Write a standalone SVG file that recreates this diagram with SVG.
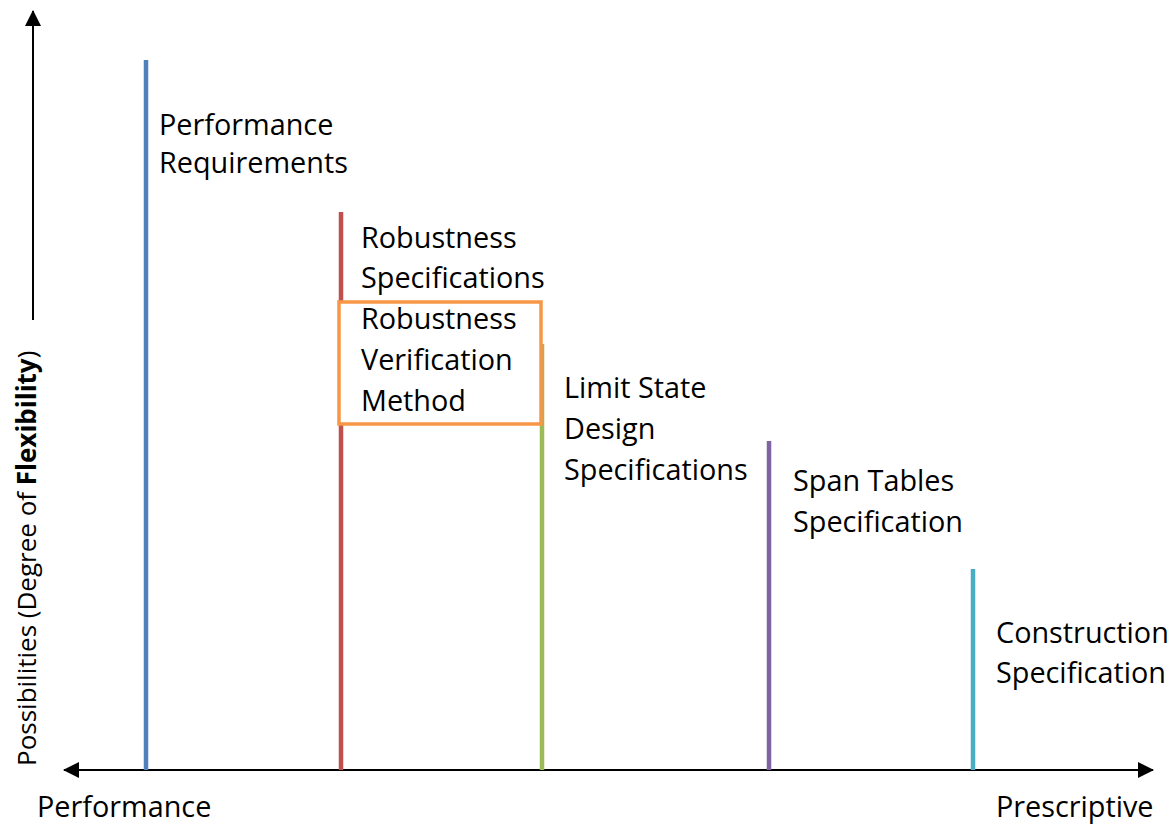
<svg xmlns="http://www.w3.org/2000/svg" width="1175" height="825" viewBox="0 0 1175 825">
<style>
text{font-family:"Open Sans","Noto Sans","Liberation Sans",sans-serif;fill:#000;}
.lbl{font-size:28.8px;}
.ax{font-size:26px;}
.bar{stroke-width:4.5;fill:none;}
.axis{stroke:#000;stroke-width:2;fill:none;}
</style>
<defs>
<marker id="ah2" viewBox="0 0 16 16" refX="15" refY="8" markerWidth="16" markerHeight="16" orient="auto-start-reverse" markerUnits="userSpaceOnUse">
<path d="M0,0 L16,8 L0,16 z" fill="#000"/>
</marker>
</defs>
<rect width="1175" height="825" fill="#fff"/>
<g id="connectors">
<line class="axis" x1="33" y1="320" x2="33" y2="11" marker-end="url(#ah2)"/>
<line class="axis" x1="64" y1="770" x2="1153" y2="770" marker-start="url(#ah2)" marker-end="url(#ah2)"/>
</g>
<g id="axis-labels">
<text class="ax" transform="translate(36,766) rotate(-90)">Possibilities (Degree of <tspan font-weight="bold">Flexibility</tspan>)</text>
<text class="lbl" x="37" y="817">Performance</text>
<text class="lbl" x="996" y="817">Prescriptive</text>
</g>
<g id="performance-requirements">
<line class="bar" x1="146" y1="60" x2="146" y2="770" stroke="#4F81BD"/>
<text class="lbl" x="159" y="135">Performance</text>
<text class="lbl" x="159" y="173">Requirements</text>
</g>
<g id="robustness-specifications">
<line class="bar" x1="341" y1="212" x2="341" y2="770" stroke="#C0504D"/>
<text class="lbl" x="361" y="248">Robustness</text>
<text class="lbl" x="361" y="288">Specifications</text>
</g>
<g id="limit-state-design">
<line class="bar" x1="542" y1="344" x2="542" y2="770" stroke="#9BBB59"/>
<text class="lbl" x="564" y="398">Limit State</text>
<text class="lbl" x="564" y="439">Design</text>
<text class="lbl" x="564" y="480">Specifications</text>
</g>
<g id="robustness-verification-method">
<rect x="339" y="302" width="202" height="122" fill="#fff" stroke="#F79646" stroke-width="3.5"/>
<text class="lbl" x="361" y="329">Robustness</text>
<text class="lbl" x="361" y="370">Verification</text>
<text class="lbl" x="361" y="411">Method</text>
</g>
<g id="span-tables">
<line class="bar" x1="769" y1="441" x2="769" y2="770" stroke="#8064A2"/>
<text class="lbl" x="793" y="491">Span Tables</text>
<text class="lbl" x="793" y="532">Specification</text>
</g>
<g id="construction-specification">
<line class="bar" x1="973" y1="569" x2="973" y2="770" stroke="#4BACC6"/>
<text class="lbl" x="996" y="643">Construction</text>
<text class="lbl" x="996" y="683">Specification</text>
</g>
</svg>
